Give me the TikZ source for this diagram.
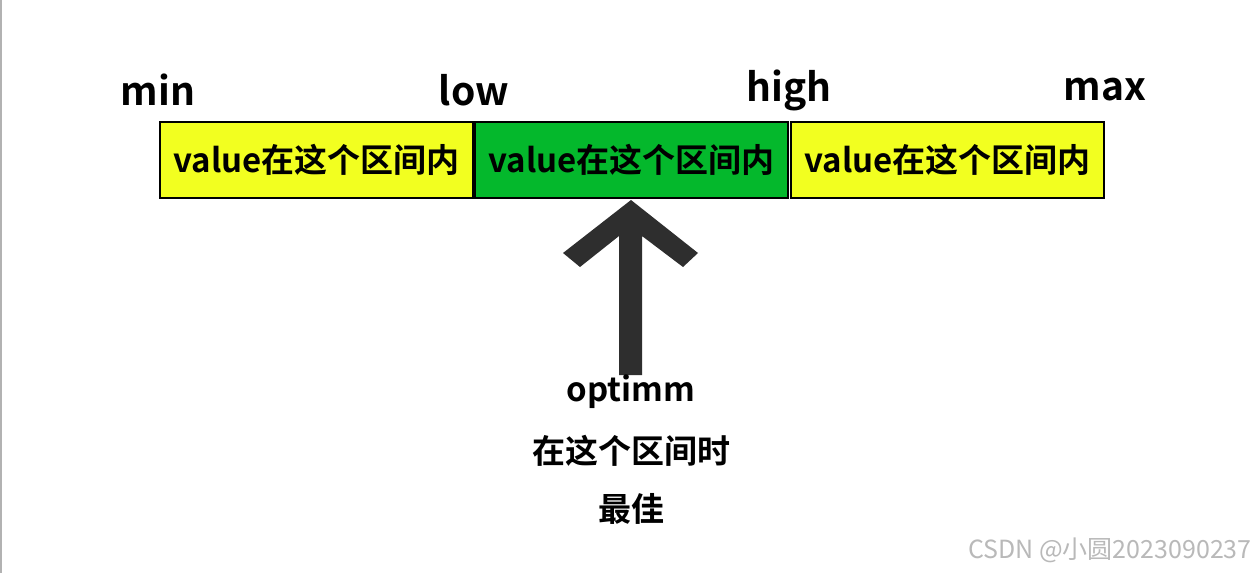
\documentclass[tikz,border=0pt]{standalone}
\usepackage{fontspec}
\setmainfont{Noto Sans CJK SC Bold}
\newfontfamily\wm{Noto Sans CJK SC}
\begin{document}
\begin{tikzpicture}[x=1pt,y=-1pt,
  seg/.style={draw=black,line width=2pt,minimum width=313pt,minimum height=76pt,inner sep=0pt,font=\fontsize{33}{36}\selectfont,anchor=north west},
  lbl/.style={font=\fontsize{39}{42}\selectfont},
  captext/.style={font=\fontsize{33}{36}\selectfont}]
\useasboundingbox[fill=white] (0,0) rectangle (1258,573);
\draw[gray!60,line width=1.2pt] (1,0) -- (1,573);
\definecolor{yel}{RGB}{242,255,32}
\definecolor{grn}{RGB}{4,184,44}
\node[seg,fill=yel] (b1) at (159,121) {value在这个区间内};
\node[seg,fill=grn] (b2) at (474,121) {value在这个区间内};
\node[seg,fill=yel] (b3) at (790,121) {value在这个区间内};
\node[lbl] (mn) at (158,90) {min};
\node[lbl] (lo) at (474,90) {low};
\node[lbl] (hi) at (789,90) {high};
\node[lbl] (mx) at (1105,90) {max};
\fill[black!82] (631,200) -- (698,253) -- (683,267) -- (642,236) -- (642,375) -- (619,375) -- (619,236) -- (580,267) -- (563,253) -- cycle;
\node[captext] (t1) at (631,392) {optimm};
\node[captext] (t2) at (631,451) {在这个区间时};
\node[captext] (t3) at (631,509) {最佳};
\node[font=\wm\fontsize{25}{27}\selectfont,text=gray!55] (w) at (1110,550) {CSDN @小圆2023090237};
\end{tikzpicture}
\end{document}
